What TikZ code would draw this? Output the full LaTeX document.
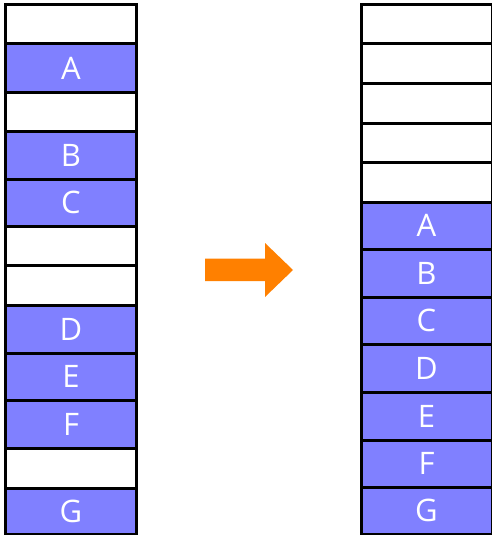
\documentclass[tikz,border=0pt]{standalone}
\usepackage{fontspec}
\setmainfont{Open Sans}
\definecolor{cellblue}{HTML}{8080FF}
\definecolor{arroworange}{HTML}{FF8000}
\tikzset{
  cell/.style={draw=black, line width=3pt, inner sep=0pt,
    minimum width=131pt, text=white,
    font=\fontsize{31}{31}\selectfont},
}
\begin{document}
\begin{tikzpicture}[x=1pt,y=-1pt]
  \useasboundingbox (0,0) rectangle (492,535);
  % memory before compaction
  \foreach \n/\t/\b/\c/\lab in {
      1/5/44/white/{}, 2/44/92/cellblue/A, 3/92/131/white/{},
      4/131/179/cellblue/B, 5/179/226/cellblue/C, 6/226/265/white/{},
      7/265/305/white/{}, 8/305/353/cellblue/D, 9/353/400/cellblue/E,
      10/400/448/cellblue/F, 11/448/488/white/{}, 12/488/534/cellblue/G}
    \node[cell, fill=\c, minimum height={(\b-\t)*1pt}] (l\n) at (71,{(\t+\b)/2}) {\lab};
  % memory after compaction
  \foreach \n/\t/\b/\c/\lab in {
      1/5/44/white/{}, 2/44/83/white/{}, 3/83/123/white/{},
      4/123/162/white/{}, 5/162/202/white/{}, 6/202/249/cellblue/A,
      7/249/297/cellblue/B, 8/297/344/cellblue/C, 9/344/392/cellblue/D,
      10/392/440/cellblue/E, 11/440/487/cellblue/F, 12/487/534/cellblue/G}
    \node[cell, fill=\c, minimum height={(\b-\t)*1pt}] (r\n) at (426.5,{(\t+\b)/2}) {\lab};
  % block arrow between the two columns
  \fill[arroworange] (205,258.5) -- (265,258.5) -- (265,243) -- (293,270)
    -- (265,297) -- (265,281) -- (205,281) -- cycle;
\end{tikzpicture}
\end{document}
